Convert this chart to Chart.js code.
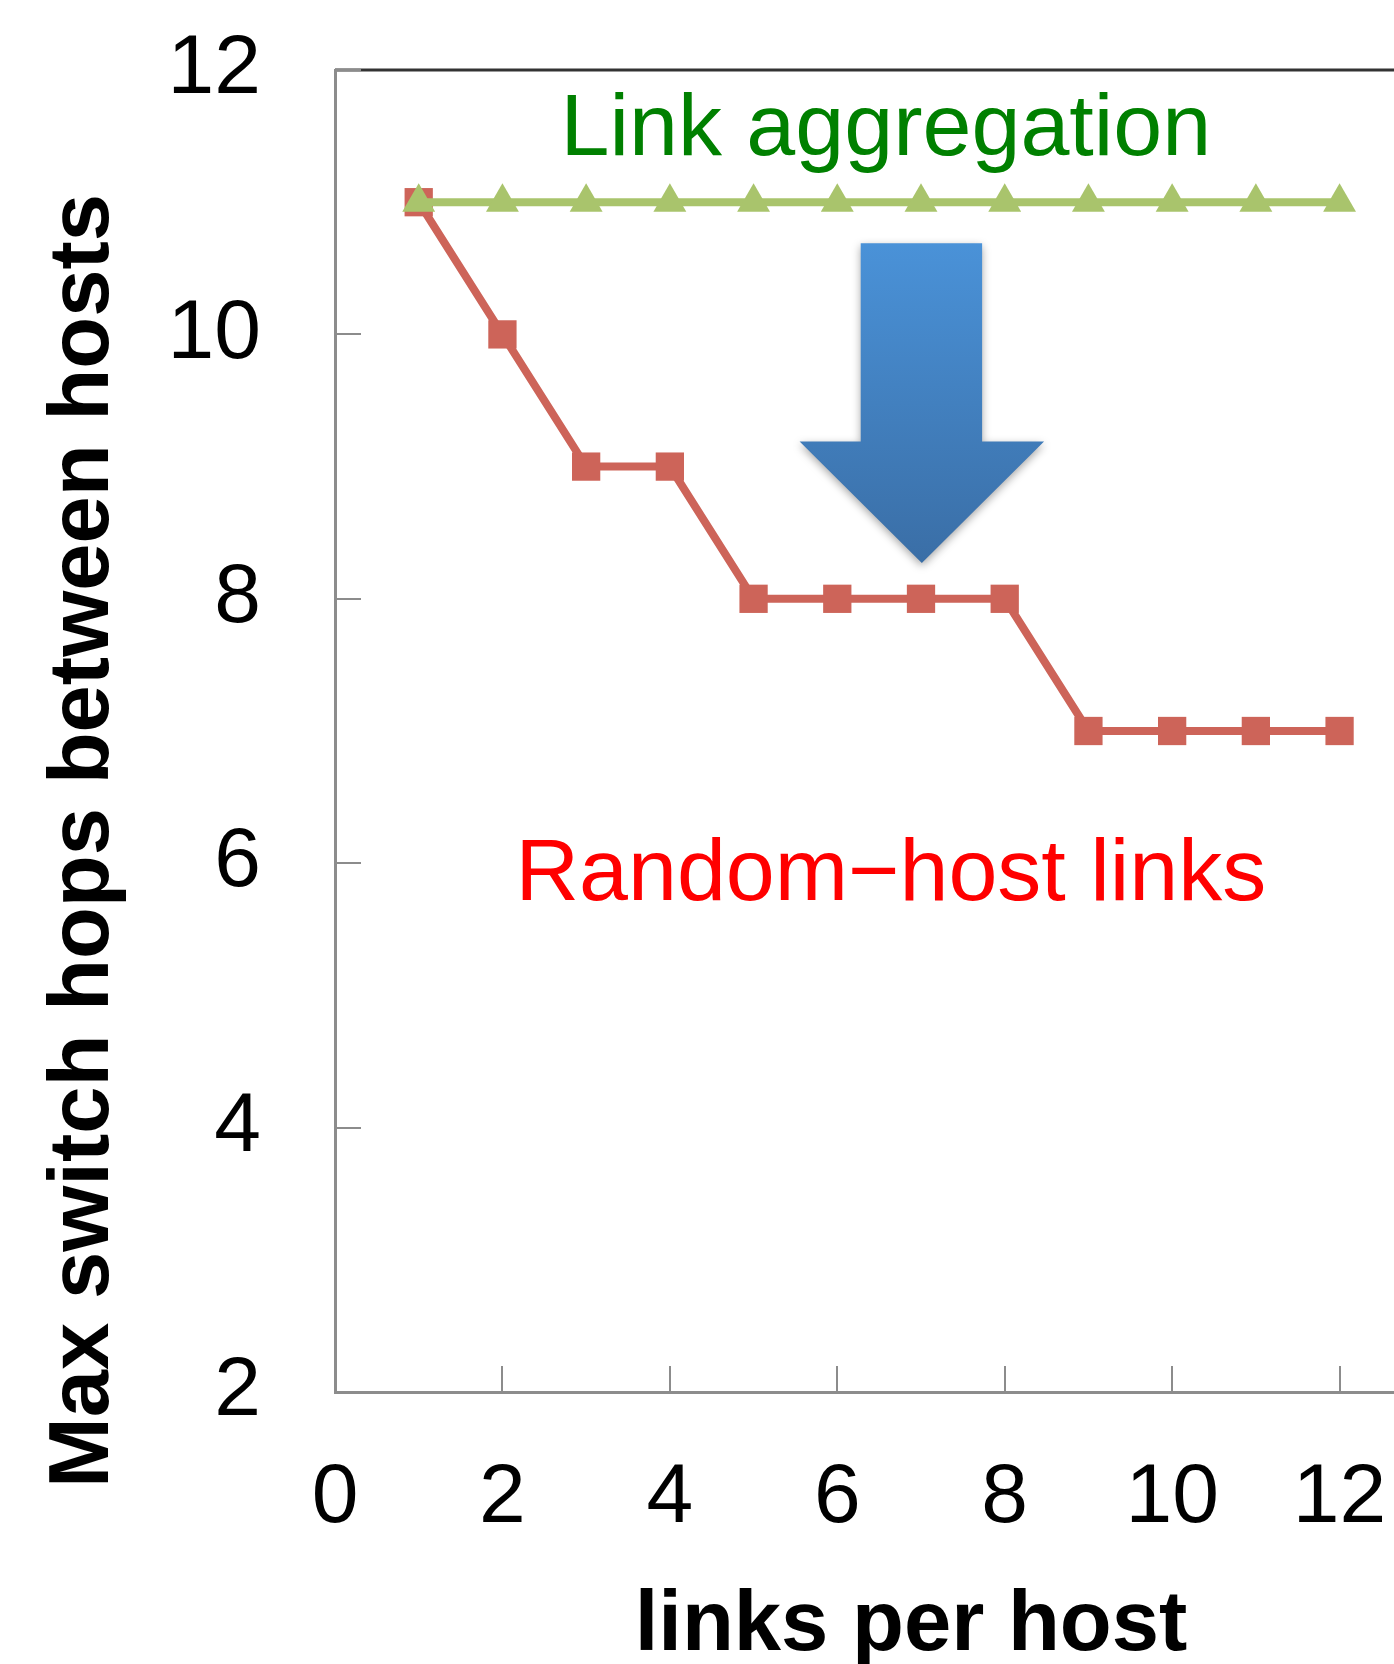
<!DOCTYPE html>
<html>
<head>
<meta charset="utf-8">
<script src="https://cdn.jsdelivr.net/npm/chart.js@4"></script>
<style>
  html, body { margin: 0; padding: 0; background: #fff; overflow: hidden; }
  #wrap { width: 1394px; height: 1664px; overflow: hidden; }
</style>
</head>
<body>
<div id="wrap"><canvas id="grafico" width="1527" height="1664"></canvas></div>
<script>
// data
const linksPerHost = [1, 2, 3, 4, 5, 6, 7, 8, 9, 10, 11, 12];
const randomHostHops = [11, 10, 9, 9, 8, 8, 8, 8, 7, 7, 7, 7];
const linkAggHops = [11, 11, 11, 11, 11, 11, 11, 11, 11, 11, 11, 11];
const xTickValues = [2, 4, 6, 8, 10, 12];
const yTickValues = [4, 6, 8, 10, 12];

const FONT = "'Liberation Sans', Arial, Helvetica, sans-serif";

// arrow drawn in data units (x, y)
const arrowShape = [[6.28, 10.69], [7.73, 10.69], [7.73, 9.19], [8.47, 9.19],
                    [7.01, 8.27], [5.55, 9.19], [6.28, 9.19]];

const decor = {
  id: 'decor',
  beforeDraw(chart) {
    const { ctx, chartArea: a } = chart;
    ctx.save();
    ctx.strokeStyle = '#333333';
    ctx.lineWidth = 3;
    ctx.beginPath();
    ctx.moveTo(a.left, a.top);
    ctx.lineTo(a.right, a.top);
    ctx.stroke();
    ctx.restore();
  },
  beforeDatasetsDraw(chart) {
    const { ctx, chartArea: a, scales } = chart;
    const x = scales.x, y = scales.y;
    ctx.save();
    // inward tick marks
    ctx.strokeStyle = '#8c8c8c';
    ctx.lineWidth = 2;
    ctx.beginPath();
    yTickValues.forEach(v => {
      const p = Math.round(y.getPixelForValue(v));
      ctx.moveTo(a.left, p); ctx.lineTo(a.left + 26, p);
    });
    xTickValues.forEach(v => {
      const p = Math.round(x.getPixelForValue(v));
      ctx.moveTo(p, a.bottom); ctx.lineTo(p, a.bottom - 26);
    });
    ctx.stroke();

    // blue arrow
    const pts = arrowShape.map(([u, w]) => [x.getPixelForValue(u), y.getPixelForValue(w)]);
    const g = ctx.createLinearGradient(0, pts[0][1], 0, pts[4][1]);
    g.addColorStop(0, '#4a92d8');
    g.addColorStop(1, '#3a6ea6');
    ctx.shadowColor = 'rgba(0,0,0,0.35)';
    ctx.shadowBlur = 8;
    ctx.shadowOffsetY = 3;
    ctx.fillStyle = g;
    ctx.beginPath();
    pts.forEach(([px, py], i) => i ? ctx.lineTo(px, py) : ctx.moveTo(px, py));
    ctx.closePath();
    ctx.fill();
    ctx.restore();
  },
  afterDraw(chart) {
    const { ctx, scales } = chart;
    const x = scales.x, y = scales.y;
    ctx.save();
    ctx.textBaseline = 'alphabetic';
    ctx.textAlign = 'center';

    ctx.font = '88px ' + FONT;
    ctx.fillStyle = '#008000';
    ctx.fillText('Link aggregation', x.getPixelForValue(6.58), y.getPixelForValue(11.36));
    ctx.fillStyle = '#ff0000';
    ctx.fillText('Random\u2212host links', x.getPixelForValue(6.64), y.getPixelForValue(5.72));

    // axis titles
    ctx.fillStyle = '#000';
    ctx.font = 'bold 85px ' + FONT;
    ctx.fillText('links per host', 911, 1650);
    ctx.translate(108, 841);
    ctx.rotate(-Math.PI / 2);
    ctx.fillText('Max switch hops between hosts', 0, 0);
    ctx.restore();
  }
};

const graph = new Chart(document.getElementById('grafico').getContext('2d'), {
  type: 'line',
  data: {
    datasets: [{
      label: 'Link aggregation',
      data: linksPerHost.map((v, i) => ({ x: v, y: linkAggHops[i] })),
      borderColor: '#a9c46c',
      backgroundColor: '#a9c46c',
      borderWidth: 8,
      pointStyle: 'triangle',
      pointRadius: 19,
      pointBorderWidth: 0,
      tension: 0
    }, {
      label: 'Random-host links',
      data: linksPerHost.map((v, i) => ({ x: v, y: randomHostHops[i] })),
      borderColor: '#cd6459',
      backgroundColor: '#cd6459',
      borderWidth: 8,
      pointStyle: 'rect',
      pointRadius: 20,
      pointBorderWidth: 0,
      tension: 0
    }]
  },
  options: {
    responsive: false,
    animation: false,
    layout: { padding: { top: 70, left: 0, right: 0, bottom: 0 } },
    plugins: { legend: { display: false }, tooltip: { enabled: false } },
    scales: {
      x: {
        type: 'linear',
        min: 0, max: 14,
        grid: { display: false, drawTicks: false },
        border: { display: true, color: '#8c8c8c', width: 3 },
        ticks: { stepSize: 2, includeBounds: false, padding: 56, color: '#000',
                 font: { family: FONT, size: 84 } },
        afterFit(s) { s.height = 272; s.paddingLeft = 0; s.paddingRight = 0; }
      },
      y: {
        min: 2, max: 12,
        grid: { display: false, drawTicks: false },
        border: { display: true, color: '#8c8c8c', width: 3 },
        ticks: { stepSize: 2, padding: 74, color: '#000',
                 font: { family: FONT, size: 84 } },
        afterFit(s) { s.width = 335; s.paddingTop = 0; s.paddingBottom = 0; }
      }
    }
  },
  plugins: [decor]
});
</script>
</body>
</html>
